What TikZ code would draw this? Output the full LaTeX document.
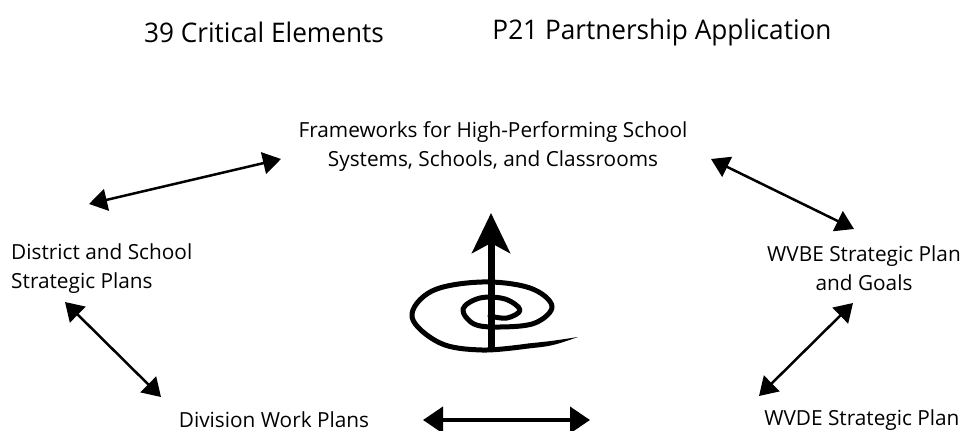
\documentclass[tikz,border=0pt]{standalone}
\usepackage{fontspec}
\setmainfont{Open Sans}
\usetikzlibrary{arrows.meta,positioning}

\begin{document}
\begin{tikzpicture}[x=1pt,y=-1pt,>={Triangle[length=18pt,width=22pt]},
  line width=2.5pt]
  \tikzstyle{every node}=[font=\fontsize{20.8}{29}\selectfont,inner sep=0pt]
  \tikzstyle{heading}=[font=\fontsize{27}{30}\selectfont]
  \tikzstyle{link}=[<->,line width=2.5pt]
  \tikzstyle{wide}=[<->,line width=4pt,>={Triangle[length=20pt,width=26pt]}]
  \tikzstyle{rise}=[->,line width=7pt,>={Stealth[length=40pt,width=38pt,inset=10pt]}]

  \useasboundingbox (0,0) rectangle (967,431);

  \node[heading] (T1) at (264,32) {\scalebox{0.97}[1]{39 Critical Elements}};
  \node[heading] (T2) at (662,32) {\scalebox{0.97}[1]{P21 Partnership Application}};

  \node[align=center]            (FW)   at (493,147) {Frameworks for High-Performing School\\Systems, Schools, and Classrooms};
  \node[align=left,anchor=west]  (DSP)  at (10,269)  {District and School\\Strategic Plans};
  \node[align=center]            (WVBE) at (864,268) {WVBE Strategic Plan\\and Goals};
  \node                          (DWP)  at (274,420) {Division Work Plans};
  \node[anchor=west]             (WVDE) at (763,420) {WVDE Strategic Plan};

  % arrow ends
  \coordinate (A1) at (89,204);  \coordinate (A2) at (281,159);
  \coordinate (B1) at (711,159); \coordinate (B2) at (854,229);
  \coordinate (C1) at (65,302);  \coordinate (C2) at (161,397);
  \coordinate (D1) at (853,303); \coordinate (D2) at (759,396);
  \coordinate (E1) at (423,420); \coordinate (E2) at (590,420);
  \coordinate (UP0) at (491,352); \coordinate (UP1) at (491,213);

  \draw[link] (A1) -- (A2);
  \draw[link] (B1) -- (B2);
  \draw[link] (C1) -- (C2);
  \draw[link] (D1) -- (D2);
  \draw[wide] (E1) -- (E2);

  % spiral
  \draw[line width=5pt,line cap=round,line join=round]
    plot[smooth,tension=0.6] coordinates {(490,316) (507,318) (520,310) (505,299)
      (480,298) (463,309) (474,324) (500,327) (535,323) (552,306) (530,288)
      (482,282) (432,291) (412,317) (440,343) (482,350) (528,346)};
  \fill (528,343.5) .. controls (552,341) .. (578,337) .. controls (552,346) .. (528,348.5) -- cycle;
  \draw[rise] (UP0) -- (UP1);
\end{tikzpicture}
\end{document}
